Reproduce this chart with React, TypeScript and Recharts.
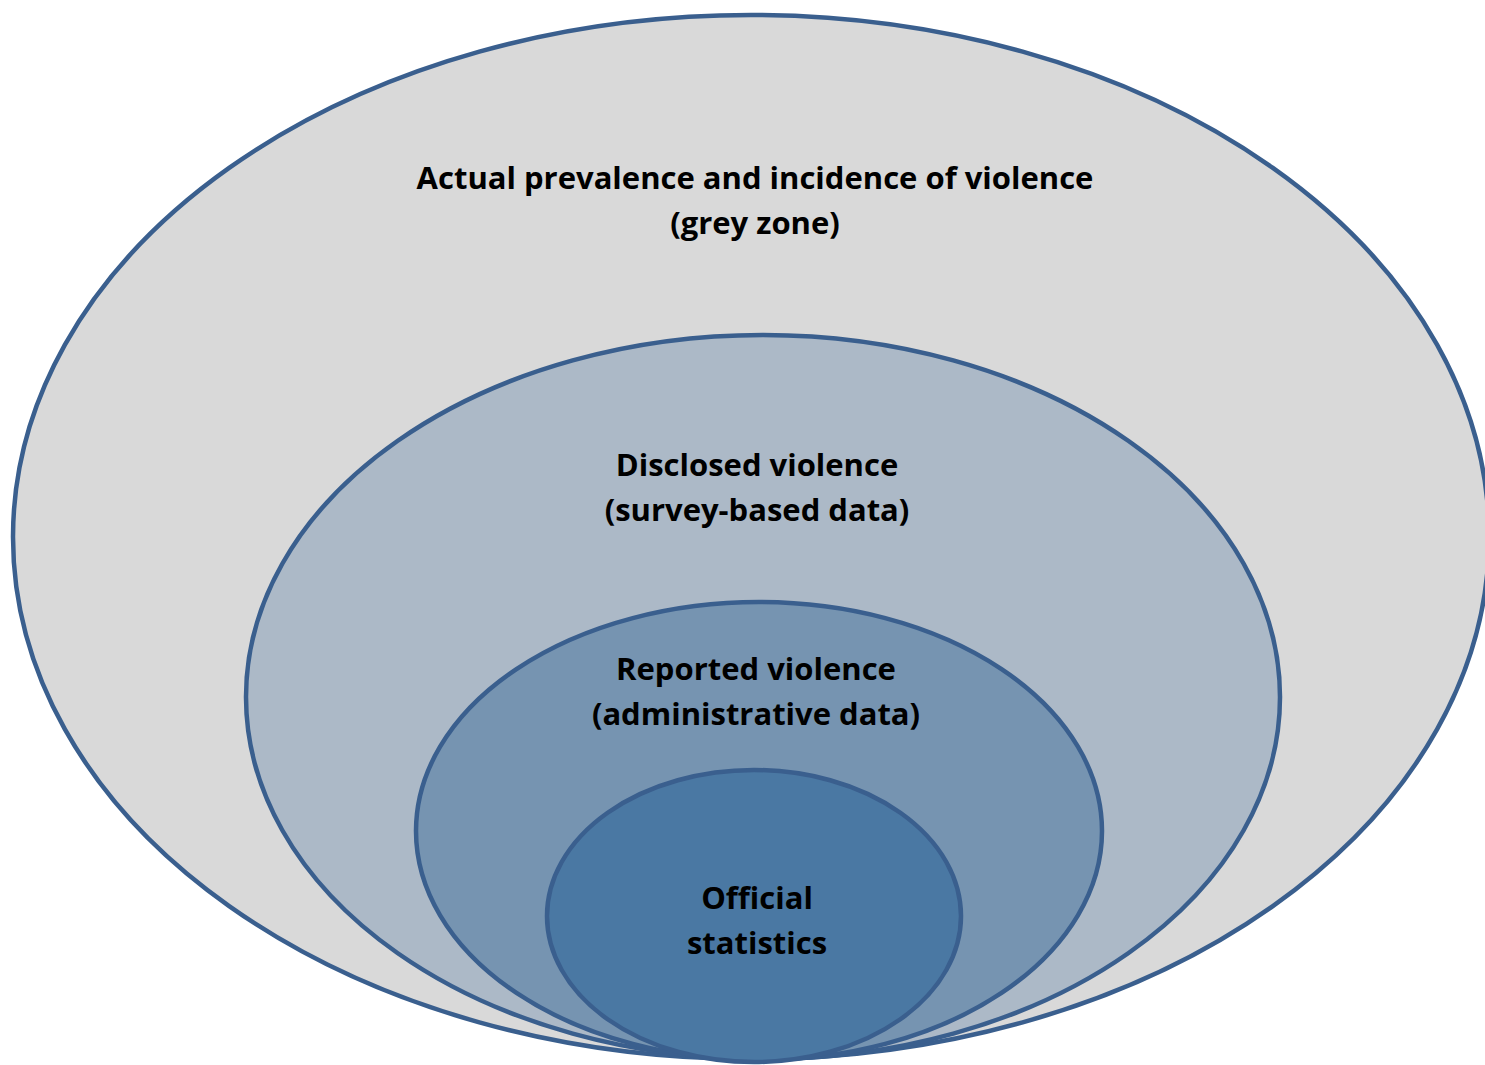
import { ScatterChart, Scatter, XAxis, YAxis } from "recharts"

// nested zones, outermost first (units = px of the original figure)
const zoneNames = ["actual", "disclosed", "reported", "official"]
const centerX = [751, 763, 759, 754]
const centerY = [537, 697, 831, 916]
const radiusX = [738, 517, 343, 207]
const radiusY = [522, 362, 229, 146]

const labelLines = [
  ["Actual prevalence and incidence of violence", "(grey zone)"],
  ["Disclosed violence", "(survey-based data)"],
  ["Reported violence", "(administrative data)"],
  ["Official", "statistics"],
]
const labelX = [755, 757, 756, 757]
const labelY = [200, 487, 691, 920]

const fills = ["#D9D9D9", "#ACB9C7", "#7694B1", "#4A78A3"]
const STROKE = "#3A5F8E"

const W = 1485
const H = 1065
const DOMAIN_X = 1485
const DOMAIN_Y = 1065

const zoneData = zoneNames.map((name, i) => ({
  name,
  x: centerX[i],
  y: centerY[i],
  rx: radiusX[i],
  ry: radiusY[i],
  fill: fills[i],
}))

const labelData = labelLines.map((lines, i) => ({
  x: labelX[i],
  y: labelY[i],
  lines,
}))

const EllipseShape = (props: any) => {
  const { cx, cy, payload } = props
  return (
    <ellipse
      cx={cx}
      cy={cy}
      rx={(payload.rx * W) / DOMAIN_X}
      ry={(payload.ry * H) / DOMAIN_Y}
      fill={payload.fill}
      stroke={STROKE}
      strokeWidth={4.5}
    />
  )
}

const LabelShape = (props: any) => {
  const { cx, cy, payload } = props
  return (
    <text
      x={cx}
      y={cy}
      textAnchor="middle"
      fontFamily="'Open Sans', sans-serif"
      fontWeight={700}
      fontSize={31}
      fill="#000"
    >
      <tspan x={cx} y={cy - 11}>{payload.lines[0]}</tspan>
      <tspan x={cx} y={cy + 34}>{payload.lines[1]}</tspan>
    </text>
  )
}

export default function App() {
  return (
    <div style={{ position: "absolute", left: 0, top: 0, background: "#fff" }}>
      <ScatterChart width={W} height={H} margin={{ top: 0, right: 0, bottom: 0, left: 0 }}>
        <XAxis type="number" dataKey="x" domain={[0, DOMAIN_X]} hide />
        <YAxis type="number" dataKey="y" domain={[0, DOMAIN_Y]} reversed hide />
        <Scatter data={zoneData} shape={EllipseShape} isAnimationActive={false} />
        <Scatter data={labelData} shape={LabelShape} isAnimationActive={false} />
      </ScatterChart>
    </div>
  )
}
